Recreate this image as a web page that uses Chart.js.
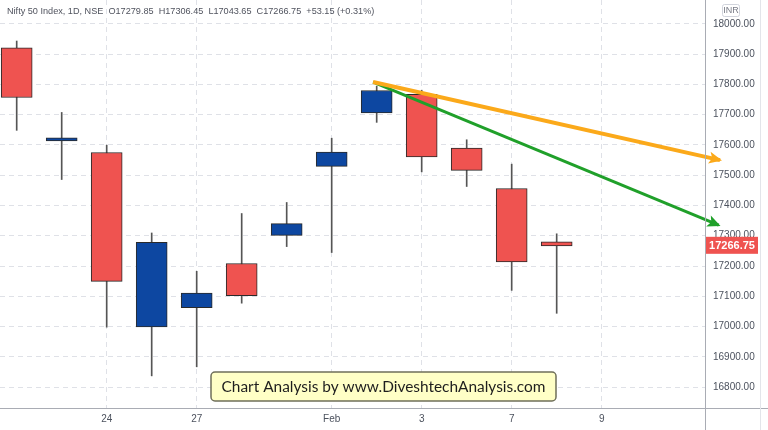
<!DOCTYPE html>
<html>
<head>
<meta charset="utf-8">
<script src="https://cdn.jsdelivr.net/npm/chart.js@4.4.0/dist/chart.umd.min.js"></script>
<style>
  html, body { margin: 0; padding: 0; background: #fff; }
  canvas { display: block; }
</style>
</head>
<body>
<canvas id="g-nifty" width="768" height="430"></canvas>
<script>
// daily candles, Nifty 50 (20 Jan - 8 Feb)
var opens  = [17921.00, 17613.70, 17575.15, 16998.80, 17062.00, 17208.30, 17301.05, 17529.45, 17706.20, 17767.75, 17590.20, 17456.30, 17279.85];
var highs  = [17943.70, 17707.60, 17599.40, 17309.15, 17182.50, 17373.50, 17410.00, 17622.40, 17794.60, 17781.15, 17617.30, 17536.75, 17306.45];
var lows   = [17648.45, 17485.85, 16997.85, 16836.80, 16866.75, 17077.10, 17264.15, 17244.55, 17674.80, 17511.15, 17462.80, 17119.40, 17043.65];
var closes = [17757.00, 17617.15, 17149.10, 17277.95, 17110.15, 17101.95, 17339.85, 17576.85, 17780.00, 17560.20, 17516.30, 17213.60, 17266.75];

var xTickPos    = [2, 4, 7, 9, 11, 13];
var xTickLabels = ['24', '27', 'Feb', '3', '7', '9'];
var yTicks = [16800, 16900, 17000, 17100, 17200, 17300, 17400, 17500, 17600, 17700, 17800, 17900, 18000];

// trend lines drawn on the chart: [slot, price]
var orangeLine = [[7.92, 17808], [15.63, 17550]];
var greenLine  = [[7.92, 17808], [15.60, 17335]];

var headerText = 'Nifty 50 Index, 1D, NSE  O17279.85  H17306.45  L17043.65  C17266.75  +53.15 (+0.31%)';
var watermark = 'Chart Analysis by www.DiveshtechAnalysis.com';

var bodies = [], wicks = [], bodyColors = [];
for (var i = 0; i < opens.length; i++) {
  bodies.push({ x: i, y: [opens[i], closes[i]] });
  wicks.push({ x: i, y: [lows[i], highs[i]] });
  bodyColors.push(closes[i] >= opens[i] ? '#0d47a1' : '#ef5350');
}
function toPts(arr) { return arr.map(function (p) { return { x: p[0], y: p[1] }; }); }

var arrowPlugin = {
  id: 'arrows',
  afterDatasetsDraw: function (chart) {
    var ctx = chart.ctx;
    chart.data.datasets.forEach(function (ds, di) {
      if (!ds.arrow) return;
      var pts = chart.getDatasetMeta(di).data;
      var a = pts[pts.length - 2], b = pts[pts.length - 1];
      var ang = Math.atan2(b.y - a.y, b.x - a.x);
      var len = 13, half = 6;
      ctx.save();
      ctx.translate(b.x, b.y);
      ctx.rotate(ang);
      ctx.fillStyle = ds.borderColor;
      ctx.beginPath();
      ctx.moveTo(2, 0);
      ctx.lineTo(2 - len, -half);
      ctx.lineTo(2 - len + 3, 0);
      ctx.lineTo(2 - len, half);
      ctx.closePath();
      ctx.fill();
      ctx.restore();
    });
  }
};

var extrasPlugin = {
  id: 'extras',
  afterDraw: function (chart) {
    var ctx = chart.ctx, area = chart.chartArea, ys = chart.scales.y;
    ctx.save();
    // frame lines
    ctx.strokeStyle = '#a9acb4';
    ctx.lineWidth = 1;
    ctx.beginPath();
    ctx.moveTo(area.right + 0.5, 0); ctx.lineTo(area.right + 0.5, 430);
    ctx.moveTo(0, area.bottom + 0.5); ctx.lineTo(768, area.bottom + 0.5);
    ctx.stroke();
    ctx.strokeStyle = '#e3e5ea';
    ctx.beginPath();
    ctx.moveTo(760.5, 0); ctx.lineTo(760.5, 430);
    ctx.stroke();

    // header
    var fs = 11;
    ctx.font = fs + 'px "Liberation Sans"';
    var w = ctx.measureText(headerText).width;
    fs = fs * 368 / w;
    ctx.font = fs + 'px "Liberation Sans"';
    ctx.fillStyle = '#50535e';
    ctx.textBaseline = 'middle';
    ctx.textAlign = 'left';
    ctx.fillText(headerText, 7, 11);

    // INR box
    ctx.strokeStyle = '#d1d4dc';
    ctx.fillStyle = '#fff';
    ctx.beginPath();
    ctx.roundRect(722.5, 4.5, 17, 12, 2);
    ctx.fill(); ctx.stroke();
    ctx.fillStyle = '#787b86';
    ctx.font = '9px "Liberation Sans"';
    ctx.textAlign = 'center';
    ctx.fillText('INR', 731, 11);

    // last price label
    var py = ys.getPixelForValue(closes[closes.length - 1]);
    ctx.fillStyle = '#ef5350';
    ctx.fillRect(area.right + 1, py - 9, 52, 17);
    ctx.fillStyle = '#fff';
    ctx.font = 'bold 11px "Liberation Sans"';
    ctx.textAlign = 'center';
    ctx.fillText(closes[closes.length - 1].toFixed(2), area.right + 27, py);

    // watermark box
    ctx.fillStyle = '#ffffc6';
    ctx.strokeStyle = '#6f6f5a';
    ctx.lineWidth = 1.5;
    ctx.beginPath();
    ctx.roundRect(211, 372, 345, 29, 4);
    ctx.fill(); ctx.stroke();
    var ws = 17;
    ctx.font = ws + 'px Lato';
    ws = ws * 324 / ctx.measureText(watermark).width;
    ctx.font = ws + 'px Lato';
    ctx.fillStyle = '#1e1e1e';
    ctx.textAlign = 'center';
    ctx.fillText(watermark, 383.5, 387);
    ctx.restore();
  }
};

var idhtml = document.getElementById('g-nifty').getContext('2d');
var g_velas = new Chart(idhtml, {
  type: 'bar',
  data: {
    datasets: [{
      label: 'orange',
      type: 'line',
      data: toPts(orangeLine),
      borderColor: '#fba91a',
      borderWidth: 4,
      pointRadius: 0,
      clip: false,
      arrow: true,
      order: 0
    }, {
      label: 'green',
      type: 'line',
      data: toPts(greenLine),
      borderColor: '#20a02a',
      borderWidth: 3,
      pointRadius: 0,
      clip: false,
      arrow: true,
      order: 0
    }, {
      label: 'body',
      data: bodies,
      backgroundColor: bodyColors,
      borderColor: '#2a2a2a',
      borderWidth: 1,
      borderSkipped: false,
      barThickness: 31,
      minBarLength: 3,
      grouped: false,
      order: 1
    }, {
      label: 'wick',
      data: wicks,
      backgroundColor: '#555',
      borderWidth: 0,
      barThickness: 1,
      grouped: false,
      order: 2
    }]
  },
  options: {
    responsive: false,
    animation: false,
    devicePixelRatio: 1,
    layout: { padding: 0 },
    plugins: { legend: { display: false }, tooltip: { enabled: false } },
    scales: {
      x: {
        type: 'linear',
        offset: false,
        min: -0.371,
        max: 15.296,
        afterBuildTicks: function (s) { s.ticks = xTickPos.map(function (v) { return { value: v }; }); },
        afterFit: function (s) { s.height = 22; s.paddingLeft = 0; s.paddingRight = 0; },
        ticks: {
          autoSkip: false,
          maxRotation: 0,
          padding: 5,
          color: '#4c525e',
          font: { family: 'Liberation Sans', size: 10 },
          callback: function (v) { var k = xTickPos.indexOf(v); return k < 0 ? '' : xTickLabels[k]; }
        },
        grid: { color: '#dfe1e7', drawTicks: false, offset: false },
        border: { display: false, dash: [5, 4] }
      },
      y: {
        position: 'right',
        min: 16730.6,
        max: 18079.3,
        afterBuildTicks: function (s) { s.ticks = yTicks.map(function (v) { return { value: v }; }); },
        afterFit: function (s) { s.width = 63; s.paddingTop = 0; s.paddingBottom = 0; },
        ticks: {
          padding: 8,
          color: '#4c525e',
          font: { family: 'Liberation Sans', size: 10 },
          callback: function (v) { return v.toFixed(2); }
        },
        grid: { color: '#dfe1e7', drawTicks: false },
        border: { display: false, dash: [5, 4] }
      }
    }
  },
  plugins: [arrowPlugin, extrasPlugin]
});
</script>
</body>
</html>
